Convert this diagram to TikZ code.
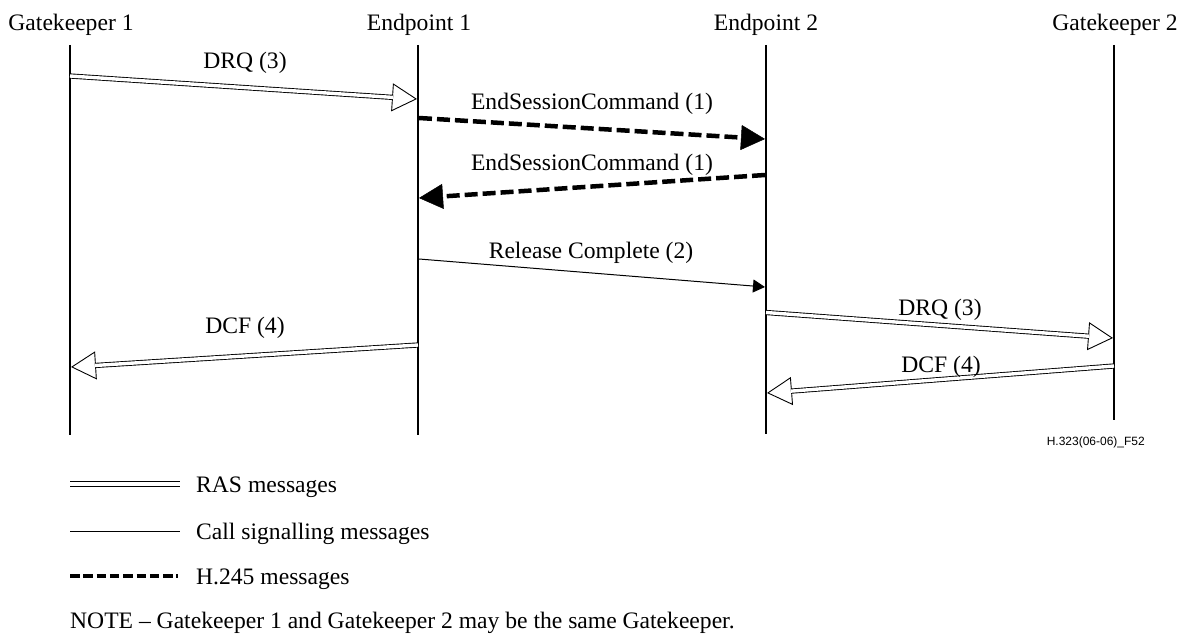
\documentclass[tikz,border=0pt]{standalone}
\usepackage{fontspec}
\setmainfont{Liberation Serif}
\newfontfamily\footfont{Liberation Sans}
\usetikzlibrary{arrows.meta}
\newcommand\hfont{\fontsize{23.6}{28}\selectfont}
\newcommand\ffont{\footfont\fontsize{12}{14}\selectfont}
\tikzset{
  lifeline/.style={line width=2pt},
  hdr/.style={font=\hfont, anchor=base, inner sep=0pt},
  lbl/.style={font=\hfont, anchor=base, inner sep=0pt},
  legtxt/.style={font=\hfont, anchor=base west, inner sep=0pt},
  rashead/.style={line width=0.9pt, -{Triangle[open, length=25pt, width=28pt, line width=0.9pt]}},
  rasline/.style={line width=0.9pt, double, double distance=3.4pt, shorten >=24pt},
  callsig/.style={line width=1pt, -{Triangle[length=12pt, width=13pt]}},
  h245/.style={line width=4.5pt, dash pattern=on 13pt off 5pt, -{Triangle[length=24pt, width=25pt, line width=0.5pt]}},
}
\begin{document}
\begin{tikzpicture}[x=1pt, y=-1pt]
\useasboundingbox (0,0) rectangle (1187,634);
% headers
\node[hdr] (hg1) at (71,31) {Gatekeeper 1};
\node[hdr] (he1) at (419,31) {Endpoint 1};
\node[hdr] (he2) at (766,31) {Endpoint 2};
\node[hdr] (hg2) at (1115,31) {Gatekeeper 2};
% lifelines
\coordinate (g1t) at (70,45);   \coordinate (g1b) at (70,435);
\coordinate (e1t) at (418,45);  \coordinate (e1b) at (418,435);
\coordinate (e2t) at (766,45);  \coordinate (e2b) at (766,434);
\coordinate (g2t) at (1114,45); \coordinate (g2b) at (1114,420);
\draw[lifeline] (g1t) -- (g1b);
\draw[lifeline] (e1t) -- (e1b);
\draw[lifeline] (e2t) -- (e2b);
\draw[lifeline] (g2t) -- (g2b);
% message end points
\coordinate (m1s) at (70,76);    \coordinate (m1e) at (417,99);
\coordinate (m2s) at (419,118);  \coordinate (m2e) at (765,139);
\coordinate (m3s) at (765,175);  \coordinate (m3e) at (419,198);
\coordinate (m4s) at (419,259);  \coordinate (m4e) at (765,287);
\coordinate (m5s) at (766,312.5);\coordinate (m5e) at (1113,338);
\coordinate (m6s) at (1114,366); \coordinate (m6e) at (767,393);
\coordinate (m7s) at (418,345);  \coordinate (m7e) at (71,367);
% DRQ (3) GK1 -> EP1
\draw[rashead] (m1s) -- (m1e);
\draw[rasline] (m1s) -- (m1e);
\node[lbl] (l1) at (245,69) {DRQ (3)};
% EndSessionCommand
\draw[h245] (m2s) -- (m2e);
\node[lbl] (l2) at (592,110) {EndSessionCommand (1)};
\draw[h245] (m3s) -- (m3e);
\node[lbl] (l3) at (592,170) {EndSessionCommand (1)};
% Release Complete
\draw[callsig] (m4s) -- (m4e);
\node[lbl] (l4) at (591,258) {Release Complete (2)};
% DRQ (3) EP2 -> GK2
\draw[rashead] (m5s) -- (m5e);
\draw[rasline] (m5s) -- (m5e);
\node[lbl] (l5) at (940,315) {DRQ (3)};
% DCF (4) GK2 -> EP2
\draw[rashead] (m6s) -- (m6e);
\draw[rasline] (m6s) -- (m6e);
\node[lbl] (l6) at (941,372) {DCF (4)};
% DCF (4) EP1 -> GK1
\draw[rashead] (m7s) -- (m7e);
\draw[rasline] (m7s) -- (m7e);
\node[lbl] (l7) at (245,333) {DCF (4)};
% figure id
\node[font=\ffont, anchor=base east, inner sep=0pt] (fid) at (1145,445) {H.323(06-06)\_F52};
% legend
\coordinate (r1) at (70,484); \coordinate (r2) at (180,484);
\draw[line width=0.9pt, double, double distance=3.4pt] (r1) -- (r2);
\node[legtxt] (t1) at (196,492) {RAS messages};
\coordinate (c1) at (70,531); \coordinate (c2) at (180,531);
\draw[line width=1pt] (c1) -- (c2);
\node[legtxt] (t2) at (196,539) {Call signalling messages};
\coordinate (h1) at (70,576); \coordinate (h2) at (178,576);
\draw[line width=4.5pt, dash pattern=on 9.5pt off 3.8pt] (h1) -- (h2);
\node[legtxt] (t3) at (196,584) {H.245 messages};
\node[legtxt] (note) at (70,628) {NOTE -- Gatekeeper 1 and Gatekeeper 2 may be the same Gatekeeper.};
\end{tikzpicture}
\end{document}
